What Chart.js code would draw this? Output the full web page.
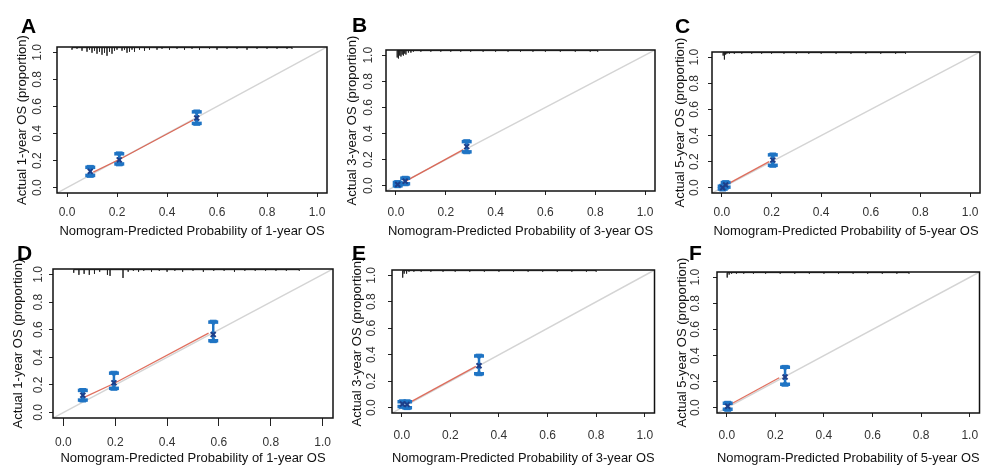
<!DOCTYPE html>
<html>
<head>
<meta charset="utf-8">
<script src="https://cdn.jsdelivr.net/npm/chart.js@4.4.1/dist/chart.umd.min.js"></script>
<style>
    body { margin: 0; background: #fff; width: 984px; height: 466px; overflow: hidden; position: relative; font-family: "Liberation Sans", Arial, sans-serif; }
    canvas { position: absolute; }
    .tag { position: absolute; font-weight: bold; font-size: 21px; line-height: 1; color: #000; }
</style>
</head>
<body>
<script>
// NOMOGRAM CALIBRATION CURVES - six panels
const tickValues = [0, 0.2, 0.4, 0.6, 0.8, 1.0];
const tickLabels = ['0.0', '0.2', '0.4', '0.6', '0.8', '1.0'];
const panelLetters = ['A', 'B', 'C', 'D', 'E', 'F'];
const horizons = ['1-year', '3-year', '5-year', '1-year', '3-year', '5-year'];

// A
const predA = [0.093, 0.209, 0.519];
const obsA = [0.12, 0.205, 0.515];
const lowA = [0.09, 0.175, 0.475];
const highA = [0.15, 0.25, 0.56];
const fitXA = [0.105, 0.209, 0.505];
const fitYA = [0.115, 0.208, 0.5];
const rugXA = [0.02, 0.04, 0.06, 0.08, 0.09, 0.10, 0.11, 0.12, 0.13, 0.14, 0.15, 0.16, 0.17, 0.18, 0.19, 0.20, 0.22, 0.23, 0.24, 0.25, 0.26, 0.27, 0.29, 0.31, 0.33, 0.36, 0.38, 0.41, 0.44, 0.47, 0.50, 0.53, 0.57, 0.60, 0.64, 0.68, 0.72, 0.76, 0.80, 0.84, 0.88, 0.90];
const rugNA = [2, 1, 3, 4, 2, 5, 3, 6, 4, 7, 5, 8, 4, 6, 3, 2, 3, 2, 5, 4, 2, 4, 2, 3, 2, 2, 1, 2, 1, 2, 1, 2, 1, 2, 1, 1, 2, 1, 1, 1, 1, 1];

// B
const predB = [0.007, 0.037, 0.284];
const obsB = [0.01, 0.035, 0.3];
const lowB = [0.0, 0.015, 0.26];
const highB = [0.025, 0.058, 0.338];
const fitXB = [0.025, 0.27];
const fitYB = [0.02, 0.277];
const rugXB = [0.005, 0.01, 0.015, 0.02, 0.025, 0.03, 0.035, 0.04, 0.05, 0.06, 0.07, 0.10, 0.14, 0.18, 0.22, 0.26, 0.30, 0.35, 0.40, 0.45, 0.50, 0.55, 0.60, 0.66, 0.72, 0.78, 0.81];
const rugNB = [7, 8, 5, 6, 4, 5, 3, 4, 2, 2, 1, 1, 1, 1, 1, 1, 1, 1, 1, 1, 1, 1, 1, 1, 1, 1, 1];

// C
const predC = [0.003, 0.015, 0.205];
const obsC = [0.0, 0.022, 0.212];
const lowC = [-0.01, 0.005, 0.172];
const highC = [0.012, 0.04, 0.252];
const fitXC = [0.017, 0.19];
const fitYC = [0.022, 0.2];
const rugXC = [0.005, 0.01, 0.015, 0.02, 0.03, 0.05, 0.08, 0.12, 0.16, 0.20, 0.25, 0.30, 0.35, 0.40, 0.46, 0.52, 0.58, 0.64, 0.70, 0.74];
const rugNC = [3, 7, 2, 1, 1, 1, 1, 1, 1, 1, 1, 1, 1, 1, 1, 1, 1, 1, 1, 1];

// D
const predD = [0.075, 0.195, 0.578];
const obsD = [0.125, 0.215, 0.565];
const lowD = [0.09, 0.175, 0.52];
const highD = [0.16, 0.285, 0.655];
const fitXD = [0.08, 0.195, 0.56];
const fitYD = [0.11, 0.21, 0.575];
const rugXD = [0.04, 0.06, 0.08, 0.10, 0.12, 0.14, 0.17, 0.18, 0.23, 0.25, 0.27, 0.29, 0.31, 0.34, 0.37, 0.40, 0.43, 0.46, 0.50, 0.54, 0.58, 0.62, 0.66, 0.70, 0.74, 0.78, 0.82, 0.86, 0.91];
const rugND = [3, 5, 4, 5, 4, 2, 5, 6, 8, 2, 1, 2, 1, 2, 1, 2, 1, 2, 1, 2, 1, 1, 2, 1, 1, 1, 1, 1, 1];

// E
const predE = [0.003, 0.022, 0.318];
const obsE = [0.028, 0.025, 0.317];
const lowE = [0.01, 0.0, 0.256];
const highE = [0.045, 0.045, 0.39];
const fitXE = [0.037, 0.305];
const fitYE = [0.044, 0.312];
const rugXE = [0.004, 0.01, 0.02, 0.03, 0.05, 0.08, 0.12, 0.17, 0.22, 0.28, 0.34, 0.40, 0.46, 0.52, 0.58, 0.64, 0.70, 0.76, 0.80];
const rugNE = [7, 3, 3, 1, 1, 1, 1, 1, 1, 1, 1, 1, 1, 1, 1, 1, 1, 1, 1];

// F
const predF = [0.004, 0.24];
const obsF = [0.012, 0.236];
const lowF = [-0.012, 0.18];
const highF = [0.035, 0.31];
const fitXF = [0.014, 0.216];
const fitYF = [0.025, 0.23];
const rugXF = [0.002, 0.01, 0.02, 0.04, 0.07, 0.11, 0.16, 0.22, 0.28, 0.34, 0.40, 0.46, 0.52, 0.58, 0.64, 0.70, 0.75];
const rugNF = [5, 2, 1, 1, 1, 1, 1, 1, 1, 1, 1, 1, 1, 1, 1, 1, 1];

const panels = [
    { pred: predA, obs: obsA, low: lowA, high: highA, fitX: fitXA, fitY: fitYA, rugX: rugXA, rugN: rugNA },
    { pred: predB, obs: obsB, low: lowB, high: highB, fitX: fitXB, fitY: fitYB, rugX: rugXB, rugN: rugNB },
    { pred: predC, obs: obsC, low: lowC, high: highC, fitX: fitXC, fitY: fitYC, rugX: rugXC, rugN: rugNC },
    { pred: predD, obs: obsD, low: lowD, high: highD, fitX: fitXD, fitY: fitYD, rugX: rugXD, rugN: rugND },
    { pred: predE, obs: obsE, low: lowE, high: highE, fitX: fitXE, fitY: fitYE, rugX: rugXE, rugN: rugNE },
    { pred: predF, obs: obsF, low: lowF, high: highF, fitX: fitXF, fitY: fitYF, rugX: rugXF, rugN: rugNF }
];

// page layout (px): plot box, label centres, letter position
const layouts = [
    { box: [57, 47, 327, 193], yTitle: 22, yTick: 38, xTick: 212, xTitle: 231, tag: [21, 15], tickLen: 4 },
    { box: [386, 50, 655, 191], yTitle: 352, yTick: 369, xTick: 212, xTitle: 231, tag: [352, 14], tickLen: 4 },
    { box: [712, 52, 980, 193], yTitle: 680, yTick: 695, xTick: 212, xTitle: 231, tag: [675, 15], tickLen: 4 },
    { box: [53, 269, 333, 418], yTitle: 18, yTick: 35, xTick: 442, xTitle: 458, tag: [17, 242], tickLen: 8 },
    { box: [392, 270, 655, 413], yTitle: 357, yTick: 372, xTick: 435, xTitle: 458, tag: [352, 242], tickLen: 4 },
    { box: [717, 272, 980, 413], yTitle: 682, yTick: 696, xTick: 435, xTitle: 458, tag: [689, 242], tickLen: 4 }
];

const AX_MIN = -0.04, AX_MAX = 1.04;
const RUG_TOP = 1.035, RUG_UNIT = 0.0075;
const FONT = '"Liberation Sans", Arial, Helvetica, sans-serif';
const BLUE = '#1f74c4';
const TOP_PAD = 40;

Chart.defaults.font.family = FONT;
Chart.defaults.color = '#222';

const boxPlugin = {
    id: 'boxFrame',
    afterDraw(chart) {
        const a = chart.chartArea, ctx = chart.ctx;
        ctx.save();
        ctx.strokeStyle = '#111';
        ctx.lineWidth = 1.5;
        ctx.strokeRect(a.left, a.top, a.right - a.left, a.bottom - a.top);
        ctx.restore();
    }
};

function makePanel(i) {
    const p = panels[i], L = layouts[i];
    const [bl, bt, br, bb] = L.box;
    const cl = bl - 60, ct = bt - TOP_PAD;
    const cw = br + 10 - cl, ch = L.xTitle + 14 - ct;
    const xAxisH = L.xTitle + 14 - bb;

    const cv = document.createElement('canvas');
    cv.width = cw; cv.height = ch;
    cv.style.left = cl + 'px'; cv.style.top = ct + 'px';
    cv.style.width = cw + 'px'; cv.style.height = ch + 'px';
    document.body.appendChild(cv);

    const tag = document.createElement('div');
    tag.className = 'tag';
    tag.textContent = panelLetters[i];
    tag.style.left = L.tag[0] + 'px'; tag.style.top = L.tag[1] + 'px';
    document.body.appendChild(tag);

    const rug = [];
    p.rugX.forEach((x, k) => {
        rug.push({ x: x, y: RUG_TOP });
        rug.push({ x: x, y: RUG_TOP - p.rugN[k] * RUG_UNIT });
        rug.push({ x: x, y: RUG_TOP });
    });

    const datasets = [
        { data: [{ x: AX_MIN, y: AX_MIN }, { x: AX_MAX, y: AX_MAX }], showLine: true, borderColor: '#d4d4d4', borderWidth: 1.5, pointRadius: 0, order: 6 },
        { data: rug, showLine: true, borderColor: '#222', borderWidth: 1, pointRadius: 0, order: 5 },
        { data: p.fitX.map((x, k) => ({ x: x, y: p.fitY[k] })), showLine: true, borderColor: 'rgba(218,86,66,0.85)', borderWidth: 1.3, pointRadius: 0, order: 4 }
    ];
    p.pred.forEach((x, k) => {
        const seg = [{ x: x, y: p.low[k], cap: 'lo' }, { x: x, y: p.high[k], cap: 'hi' }];
        datasets.push({ data: seg, showLine: true, borderColor: BLUE, borderWidth: 2.5, pointStyle: 'line', pointRadius: 5, pointBorderWidth: 3.5, pointBorderColor: BLUE, order: 3 });
        datasets.push({ data: seg, showLine: false, pointStyle: 'triangle', pointRadius: 3.8, pointBackgroundColor: BLUE, pointBorderColor: BLUE, pointBorderWidth: 1,
            pointRotation: c => (c.raw && c.raw.cap === 'hi') ? 180 : 0, order: 2 });
    });
    datasets.push({ data: p.pred.map((x, k) => ({ x: x, y: p.obs[k] })), showLine: false, pointStyle: 'crossRot', pointRadius: 3.5, pointBorderWidth: 2, pointBorderColor: '#1d3f8a', order: 1 });

    // label offsets
    const probe = document.createElement('canvas').getContext('2d');
    probe.font = '12px ' + FONT;
    const widest = probe.measureText('0.0').width;
    const yPad = bl - L.yTick - L.tickLen - widest / 2;
    const xPad = L.xTick - bb - L.tickLen - 6.5;

    new Chart(cv.getContext('2d'), {
        type: 'scatter',
        data: { datasets: datasets },
        options: {
            responsive: false,
            animation: false,
            devicePixelRatio: 1,
            layout: { padding: { left: 0, top: TOP_PAD, right: 10, bottom: 0 } },
            plugins: { legend: { display: false }, tooltip: { enabled: false } },
            scales: {
                x: {
                    type: 'linear', min: AX_MIN, max: AX_MAX,
                    afterBuildTicks: s => { s.ticks = tickValues.map(v => ({ value: v })); },
                    afterFit: s => { s.height = xAxisH; },
                    ticks: { autoSkip: false, maxRotation: 0, padding: xPad, font: { size: 12 }, color: '#333', callback: (v, k) => tickLabels[k] },
                    grid: { drawOnChartArea: false, drawTicks: true, tickLength: L.tickLen, color: '#222', lineWidth: 1 },
                    border: { display: false },
                    title: { display: true, text: 'Nomogram-Predicted Probability of ' + horizons[i] + ' OS', font: { size: 13 }, color: '#111', padding: { top: 0, bottom: 14 - 7.8 } }
                },
                y: {
                    type: 'linear', min: AX_MIN, max: AX_MAX,
                    afterBuildTicks: s => { s.ticks = tickValues.map(v => ({ value: v })); },
                    afterFit: s => { s.width = 60; },
                    ticks: { autoSkip: false, minRotation: 90, maxRotation: 90, crossAlign: 'center', padding: yPad, font: { size: 12 }, color: '#333', callback: (v, k) => tickLabels[k] },
                    grid: { drawOnChartArea: false, drawTicks: true, tickLength: 4, color: '#222', lineWidth: 1 },
                    border: { display: false },
                    title: { display: true, text: 'Actual ' + horizons[i] + ' OS (proportion)', font: { size: 13 }, color: '#111', padding: { top: L.yTitle - cl - 7.8, bottom: 0 } }
                }
            }
        },
        plugins: [boxPlugin]
    });
}

document.addEventListener('DOMContentLoaded', function() {
    for (let i = 0; i < 6; i++) makePanel(i);
});
</script>
</body>
</html>
